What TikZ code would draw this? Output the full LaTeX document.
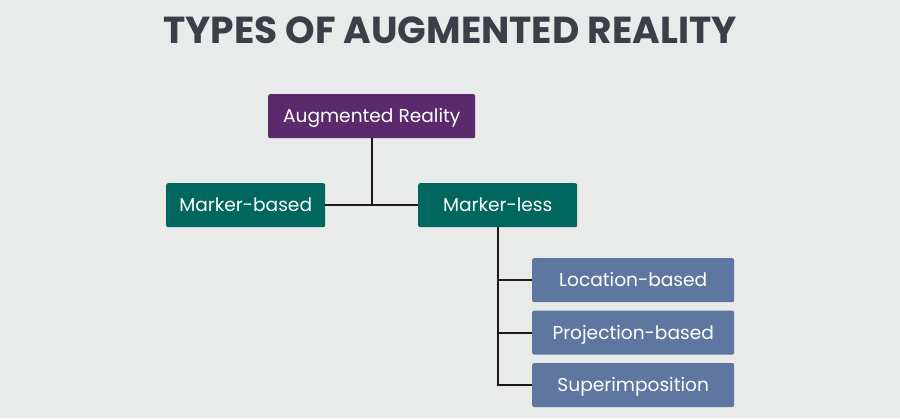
\documentclass[tikz,border=0pt]{standalone}
\usepackage{fontspec}
\setmainfont{Poppins}
\usetikzlibrary{positioning}
\definecolor{bgcol}{HTML}{E9EBEA}
\definecolor{titlecol}{HTML}{3B4048}
\definecolor{purplecol}{HTML}{5A2A6D}
\definecolor{tealcol}{HTML}{00675E}
\definecolor{bluecol}{HTML}{5F77A0}
\begin{document}
\begin{tikzpicture}[
  x=1pt, y=-1pt,
  font=\fontsize{18.6}{22}\selectfont,
  box/.style={rounded corners=2pt, align=center, text=white, inner sep=0pt, minimum height=44pt,
    text height=16pt, text depth=3pt},
  arbox/.style={box, fill=purplecol, minimum width=207pt},
  typebox/.style={box, fill=tealcol, minimum width=159pt},
  subbox/.style={box, fill=bluecol, minimum width=202pt},
  link/.style={line width=2pt, draw=black!90}
]
\fill[bgcol] (0,0) rectangle (900,418);
\node[font=\fontsize{37.6}{40}\selectfont\bfseries, text=titlecol] (title) at (450,30) {TYPES OF AUGMENTED REALITY};
\node[arbox, anchor=north west] (ar) at (268,94) {Augmented Reality};
\node[typebox, anchor=north west] (mb) at (166,183) {Marker-based};
\node[typebox, anchor=north west] (ml) at (418,183) {Marker-less};
\node[subbox, anchor=north west] (lb) at (532,258) {Location-based};
\node[subbox, below=8pt of lb] (pb) {Projection-based};
\node[subbox, below=8pt of pb] (si) {Superimposition};
\coordinate (j) at (ar.south |- mb.east);
\draw[link] (ar.south) -- (j);
\draw[link] (mb.east) -- (ml.west);
\draw[link] (ml.south) |- (si.west);
\draw[link] (ml.south |- lb.west) -- (lb.west);
\draw[link] (ml.south |- pb.west) -- (pb.west);
\end{tikzpicture}
\end{document}
